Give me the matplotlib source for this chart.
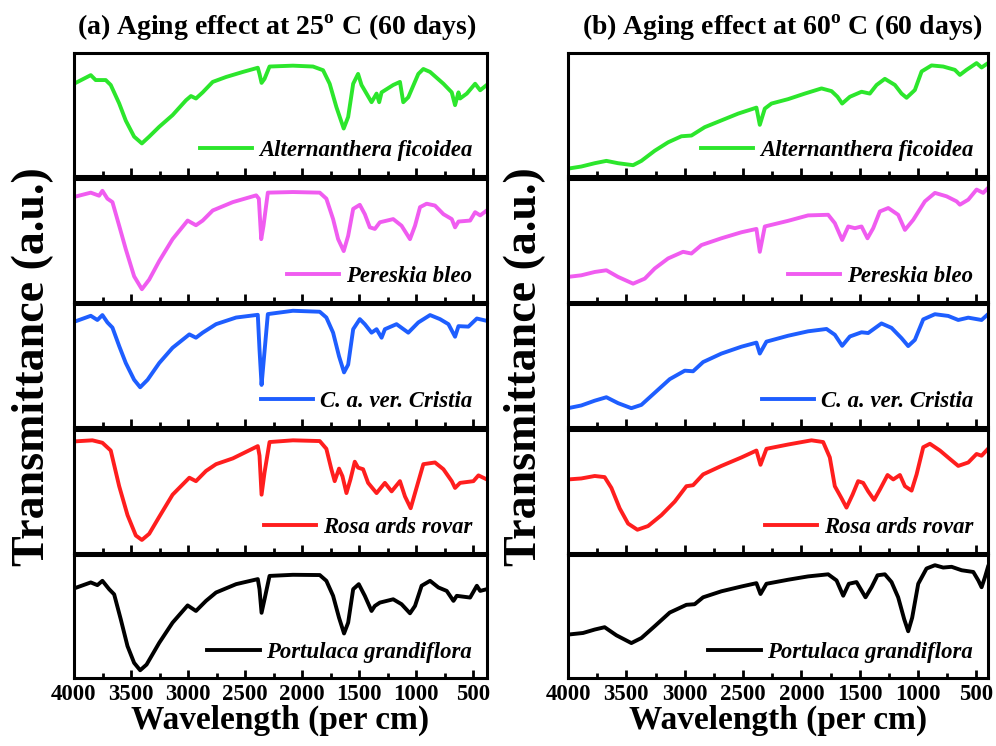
import matplotlib.pyplot as plt
from matplotlib.ticker import MultipleLocator

plt.rcParams['font.family'] = ['Liberation Serif', 'DejaVu Serif']
plt.rcParams['font.weight'] = 'bold'

names = ["Alternanthera ficoidea", "Pereskia bleo", "C. a. ver. Cristia",
         "Rosa ards rovar", "Portulaca grandiflora"]
colors = ["#2CE62C", "#F05CF0", "#1E5EFF", "#FF1E1E", "#000000"]
titles = ["(a) Aging effect at 25$^\\mathregular{o}$ C (60 days)",
          "(b) Aging effect at 60$^\\mathregular{o}$ C (60 days)"]

# ---- 25 C, 60 days ----
wn_a1 = [4000, 3853, 3810, 3722, 3678, 3604, 3546, 3473, 3405, 3341, 3253, 3136, 3018, 2975, 2931,
         2872, 2784, 2667, 2520, 2389, 2374, 2356, 2330, 2286, 2081, 1905, 1817, 1759, 1700, 1636,
         1597, 1553, 1510, 1480, 1436, 1392, 1348, 1325, 1304, 1202, 1143, 1114, 1070, 982, 938,
         879, 762, 689, 660, 630, 616, 557, 484, 440, 382]
t_a1 = [75, 82, 78, 78, 74, 59, 45, 32, 26.5, 32, 40, 49.5, 61.6, 65, 63,
        68, 76.5, 80.5, 84.6, 88, 83, 75.7, 79, 89, 89.7, 89, 86, 75, 56, 38.6,
        48, 75, 83, 74, 67, 60, 67, 60, 68, 74, 76.5, 60, 64, 83, 87,
        84.6, 75, 68, 57.6, 68, 63, 67, 75, 69.7, 74]

wn_a2 = [4000, 3853, 3780, 3751, 3707, 3663, 3604, 3546, 3473, 3405, 3341, 3253, 3136, 3004, 2931,
         2872, 2784, 2608, 2403, 2380, 2359, 2339, 2301, 2081, 1846, 1788, 1729, 1685, 1636, 1597,
         1553, 1495, 1451, 1407, 1363, 1319, 1202, 1129, 1055, 1011, 967, 909, 836, 762, 689,
         660, 630, 528, 484, 440, 382]
t_a2 = [85, 88.5, 86, 90, 83.6, 80.8, 61.6, 42.5, 20.5, 10, 17.8, 32.9, 50.7, 65.8, 62,
        65.8, 74, 80.8, 86.3, 83.6, 50.7, 61.6, 88.5, 89, 88.5, 83.6, 67, 50.7, 41, 53.4,
        75.3, 78.6, 71, 60.3, 59, 64.4, 67, 61.6, 50.7, 61.6, 76.7, 79.5, 78, 71, 67,
        60.3, 65, 65.8, 72.6, 70, 74]

wn_a3 = [4000, 3853, 3795, 3751, 3707, 3663, 3604, 3546, 3473, 3420, 3355, 3253, 3136, 2989, 2931,
         2872, 2755, 2579, 2389, 2374, 2356, 2339, 2301, 2081, 1846, 1788, 1729, 1677, 1633, 1597,
         1553, 1495, 1451, 1392, 1348, 1304, 1275, 1173, 1070, 982, 879, 792, 718, 660, 630,
         543, 469, 382]
t_a3 = [85.5, 90.4, 87, 91, 85, 80.8, 65.8, 52, 38.4, 32.3, 38.4, 52, 64.4, 75.3, 72.6,
        76.7, 83.6, 89, 91.2, 63, 34.2, 52, 91.8, 94.5, 93.7, 89, 76.7, 57.5, 44.4, 50.7,
        79.5, 87.7, 83.6, 76.7, 79.5, 72.6, 79.5, 83.6, 76.7, 85, 91, 87.7, 83.6, 73.4, 82,
        81.6, 88.2, 86.3]

wn_a4 = [4000, 3839, 3751, 3678, 3604, 3531, 3458, 3405, 3341, 3253, 3136, 2989, 2931, 2843, 2755,
         2608, 2389, 2374, 2356, 2330, 2286, 2081, 1846, 1788, 1744, 1715, 1677, 1647, 1612, 1577,
         1539, 1510, 1466, 1422, 1348, 1275, 1216, 1143, 1099, 1049, 1011, 938, 836, 762, 689,
         660, 616, 499, 455, 382]
t_a4 = [90.3, 91.2, 89.2, 82.9, 53.9, 30.4, 13.8, 10.2, 15.2, 29, 47, 60.8, 58, 66.3, 71.8,
        76.5, 86.5, 78.7, 47, 65, 89.8, 91.2, 90.6, 84.3, 67.7, 58, 68.2, 62, 48.3, 59.4,
        73.8, 69, 67.7, 56.6, 48.3, 56.6, 49.7, 58, 45.6, 36, 48.3, 71.8, 73.2, 67.7, 58,
        52.5, 56.6, 58, 62.7, 59.4]

wn_a5 = [4000, 3853, 3795, 3751, 3692, 3648, 3590, 3531, 3473, 3420, 3364, 3253, 3136, 3004, 2931,
         2843, 2755, 2579, 2389, 2374, 2356, 2330, 2286, 2081, 1846, 1788, 1729, 1677, 1633, 1597,
         1553, 1504, 1451, 1392, 1363, 1319, 1202, 1129, 1055, 1011, 953, 879, 806, 733, 674,
         645, 528, 469, 440, 382]
t_a5 = [72.8, 77.7, 75.5, 79, 72.2, 68, 47.7, 25.9, 12.3, 6.3, 10.9, 28.6, 45, 59, 54.5,
        62.7, 69.5, 76.3, 80.4, 72.2, 53, 64, 83, 83.9, 83.7, 79, 66.8, 49, 36.2, 45,
        72.2, 76.3, 66.8, 54.5, 58.6, 61.3, 64, 60, 52.6, 58.6, 75, 79, 73.6, 70.8, 62.7,
        66.8, 65.4, 75, 70.8, 72.2]

# ---- 60 C, 60 days ----
wn_b1 = [4000, 3886, 3771, 3671, 3571, 3442, 3371, 3257, 3142, 3028, 2942, 2828, 2685, 2542, 2385,
         2356, 2313, 2256, 2113, 1970, 1827, 1741, 1690, 1650, 1584, 1484, 1413, 1355, 1284, 1198,
         1141, 1098, 1027, 969, 884, 784, 684, 641, 584, 498, 455, 400]
t_b1 = [6, 7.7, 10.4, 12.3, 10.4, 8.8, 12.3, 20.5, 27.4, 32.3, 32.9, 39.7, 45.2, 50.7, 55.6,
        41.6, 54.8, 58.9, 62.5, 67, 71.2, 69, 64.4, 58.9, 64.4, 68.5, 67, 74, 79, 74,
        67, 63.6, 69.9, 85, 89.9, 89, 86.3, 82.2, 86.3, 91.8, 88.2, 91.8]

wn_b2 = [4000, 3886, 3771, 3671, 3571, 3442, 3342, 3257, 3142, 3014, 2942, 2856, 2685, 2513, 2385,
         2356, 2313, 2113, 1942, 1770, 1713, 1650, 1598, 1541, 1484, 1433, 1384, 1327, 1255, 1170,
         1112, 1041, 941, 855, 755, 669, 641, 569, 498, 441, 400]
t_b2 = [20, 21.3, 24, 25.4, 20, 14.5, 18.6, 26.8, 35, 40.4, 39, 45.9, 51.4, 56.3, 59,
        40.4, 61, 65.6, 70, 70.5, 63.7, 50, 61, 59.6, 61, 51.4, 59.6, 73.2, 76, 70.5,
        58.2, 66.4, 81.4, 88.3, 85.5, 81.4, 78.7, 82.8, 91, 88.3, 92.3]

wn_b3 = [4000, 3886, 3771, 3671, 3571, 3457, 3371, 3257, 3128, 2999, 2928, 2842, 2685, 2513, 2385,
         2356, 2299, 2113, 1942, 1784, 1713, 1650, 1584, 1484, 1427, 1313, 1227, 1141, 1084, 1027,
         955, 855, 741, 655, 569, 455, 400]
t_b3 = [15.3, 17.5, 21.4, 24.2, 19.4, 15.3, 18, 27.8, 38.9, 45.8, 45.3, 52.8, 59.7, 65.3, 68.6,
        59.7, 69.4, 74.2, 77.8, 79.7, 75, 66, 73.6, 77, 76.4, 84.2, 80.6, 72.2, 65.8, 70.8,
        87.5, 91.7, 90.3, 87, 88.9, 87, 91.7]

wn_b4 = [4000, 3886, 3771, 3686, 3628, 3557, 3485, 3405, 3314, 3199, 3085, 2985, 2928, 2842, 2685,
         2513, 2385, 2350, 2299, 2113, 1913, 1813, 1756, 1713, 1656, 1613, 1561, 1513, 1470, 1427,
         1376, 1327, 1261, 1212, 1155, 1112, 1055, 1012, 955, 898, 812, 726, 655, 569, 498,
         455, 400]
t_b4 = [59.4, 60.2, 62.2, 61.3, 52.5, 35.9, 23.5, 18.5, 21.5, 30.4, 41.4, 53.9, 54.7, 63.5, 70.4,
        77.3, 82.9, 71.3, 84.3, 87.8, 91.2, 89.8, 77.3, 53.9, 44.2, 36.5, 47, 58, 56.6, 49.7,
        42.8, 51.1, 63, 59.4, 63, 53.9, 50.3, 63.5, 85.6, 88.4, 82.9, 76, 70.4, 73.2, 80.1,
        78.7, 84.3]

wn_b5 = [4000, 3871, 3771, 3686, 3585, 3457, 3371, 3257, 3128, 2985, 2914, 2842, 2685, 2513, 2385,
         2350, 2299, 2113, 1942, 1770, 1698, 1641, 1593, 1527, 1450, 1398, 1347, 1284, 1227, 1170,
         1118, 1084, 1050, 998, 927, 855, 784, 712, 626, 526, 483, 455, 426, 400]
t_b5 = [35.3, 36.6, 39.4, 41.3, 34.7, 28.4, 32.5, 42.1, 53.2, 59.5, 60, 65.6, 70.5, 74.4, 77.1,
        68.3, 76.6, 79.9, 82.6, 84.3, 79.3, 66.9, 76.6, 78, 65.6, 73.8, 83.5, 84.3, 78, 65.6,
        47.7, 38, 49, 76.6, 89, 91.7, 89.8, 90.4, 87.6, 86.2, 79.3, 73.8, 82, 90.4]

series_a = [(wn_a1, t_a1), (wn_a2, t_a2), (wn_a3, t_a3), (wn_a4, t_a4), (wn_a5, t_a5)]
series_b = [(wn_b1, t_b1), (wn_b2, t_b2), (wn_b3, t_b3), (wn_b4, t_b4), (wn_b5, t_b5)]

W, H = 996.0, 746.0
fig = plt.figure(figsize=(9.96, 7.46), dpi=100)

columns = [(74, 487, series_a, 380, titles[0], 277, 33),
           (568, 988, series_b, 400, titles[1], 782, 525)]

for x0, x1, series, xr, title, title_x, ylab_x in columns:
    for i, (wn, t) in enumerate(series):
        top = 53 + i * 125.5
        ax = fig.add_axes([x0 / W, 1 - (top + 123) / H, (x1 - x0) / W, 123 / H])
        ax.plot(wn, t, color=colors[i], lw=2.8, label=names[i], solid_joinstyle='round')
        ax.set_xlim(4000, xr)
        ax.set_ylim(0, 100)
        ax.set_yticks([])
        ax.xaxis.set_major_locator(MultipleLocator(500))
        ax.xaxis.set_minor_locator(MultipleLocator(250))
        ax.tick_params(axis='x', which='major', direction='in', length=6, width=2,
                       labelsize=16.5, pad=4, labelbottom=(i == 4))
        ax.tick_params(axis='x', which='minor', direction='in', length=3.5, width=2)
        for sp in ax.spines.values():
            sp.set_linewidth(2.2)
        ax.legend(loc='lower right', frameon=False, handlelength=2.3, handletextpad=0.3,
                  borderaxespad=0.25, prop={'family': 'Liberation Serif', 'weight': 'bold',
                                            'style': 'italic', 'size': 16.4})
        if i == 4:
            ax.set_xlabel('Wavelength (per cm)', fontsize=24, fontweight='bold', labelpad=0)
    fig.text(title_x / W, 1 - 28 / H, title, fontsize=20, ha='center', va='center')
    fig.text(ylab_x / W, 1 - 367 / H, 'Transmittance (a.u.)', rotation=90, fontsize=33,
             ha='center', va='center')

fig.savefig('out.png', dpi=100)
